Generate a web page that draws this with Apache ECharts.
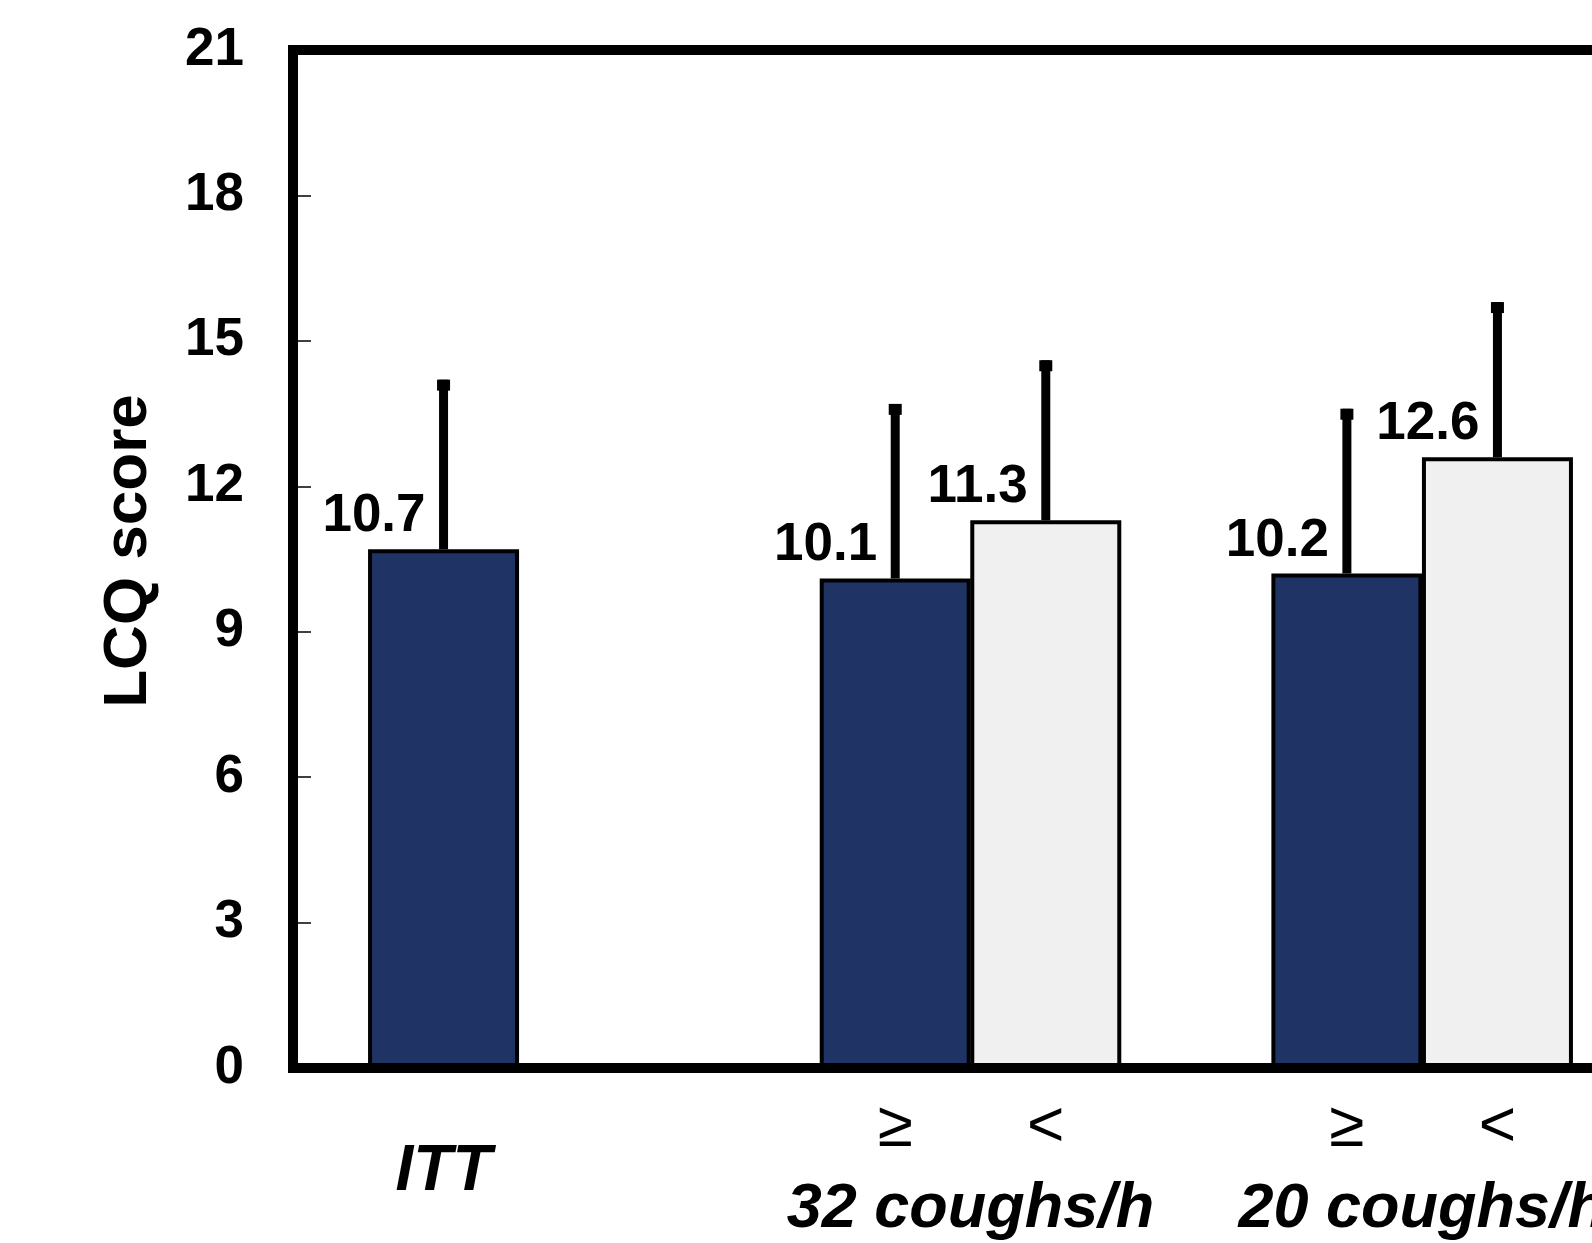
<!DOCTYPE html>
<html>
<head>
<meta charset="utf-8">
<script src="https://cdn.jsdelivr.net/npm/echarts@6/dist/echarts.min.js"></script>
<style>
html,body{margin:0;padding:0;background:#fff;overflow:hidden;width:1592px;height:1243px;}
#chart{width:1700px;height:1243px;}
</style>
</head>
<body>
<div id="chart"></div>
<script>
// Half-slot positions along the x axis (bars sit on even slots)
const slotLabels = ['', '', 'ITT', '', '', '', '', '', '≥', '32 coughs/h', '<', '', '', '', '≥', '20 coughs/h', '<', '', ''];
// Mean LCQ score, dark bars (ITT and ≥ threshold)
const darkMeans = ['-', '-', 10.7, '-', '-', '-', '-', '-', 10.1, '-', '-', '-', '-', '-', 10.2, '-', '-', '-', '-'];
// Mean LCQ score, light bars (< threshold)
const lightMeans = ['-', '-', '-', '-', '-', '-', '-', '-', '-', '-', 11.3, '-', '-', '-', '-', '-', 12.6, '-', '-'];
// Upper end of error bars
const errorTops = [null, null, 14.2, null, null, null, null, null, 13.7, null, 14.6, null, null, null, 13.6, null, 15.8, null, null];
const yTicks = [0, 3, 6, 9, 12, 15, 18, 21];

const FONT = "'Liberation Sans', Arial, sans-serif";

const errData = [];
for (let i = 0; i < slotLabels.length; i++) {
  if (errorTops[i] != null) {
    const m = darkMeans[i] !== '-' ? darkMeans[i] : lightMeans[i];
    errData.push([i, m, errorTops[i]]);
  }
}

const chart = echarts.init(document.getElementById('chart'));
const barLabel = {
  show: true,
  position: ['50%', 0],
  offset: [-18, -6],
  align: 'right',
  verticalAlign: 'bottom',
  fontFamily: FONT,
  fontWeight: 'bold',
  fontSize: 53,
  color: '#000',
  formatter: p => p.value.toFixed(1)
};

chart.setOption({
  animation: false,
  grid: {
    left: 293, top: 50, bottom: 175, right: 52,
    show: true, borderColor: '#000', borderWidth: 10, z: 5,
    backgroundColor: 'transparent'
  },
  xAxis: {
    type: 'category',
    data: slotLabels,
    boundaryGap: false,
    axisLine: { show: false },
    axisTick: { show: false },
    axisLabel: {
      interval: 0,
      margin: 28,
      color: '#000',
      fontFamily: FONT,
      formatter: v => {
        if (!v) return '';
        if (v === '≥' || v === '<') return '{op|' + v + '}';
        if (v === 'ITT') return '{itt|' + v + '}';
        return '{grp|' + v + '}';
      },
      rich: {
        op: { fontFamily: FONT, fontSize: 64, lineHeight: 64, color: '#000' },
        itt: { fontFamily: FONT, fontSize: 64, fontWeight: 'bold', fontStyle: 'italic', lineHeight: 64, padding: [88, 0, 0, 0], color: '#000' },
        grp: { fontFamily: FONT, fontSize: 63, fontWeight: 'bold', fontStyle: 'italic', lineHeight: 64, padding: [164, 0, 0, 0], color: '#000' }
      }
    },
    splitLine: { show: false }
  },
  yAxis: {
    type: 'value',
    min: yTicks[0], max: yTicks[yTicks.length - 1], interval: 3,
    name: 'LCQ score',
    nameLocation: 'middle',
    nameGap: 133,
    nameTextStyle: { fontFamily: FONT, fontSize: 62, fontWeight: 'bold', color: '#000', padding: [0, 0, 0, 16] },
    axisLine: { show: false },
    axisTick: { show: true, inside: true, length: 18, lineStyle: { color: '#000', width: 1.5 } },
    axisLabel: { margin: 49, fontFamily: FONT, fontSize: 53, fontWeight: 'bold', color: '#000' },
    splitLine: { show: false }
  },
  series: [
    {
      type: 'bar', data: darkMeans, barWidth: 151, barGap: '-100%',
      itemStyle: { color: '#1f3364', borderColor: '#000', borderWidth: 4 },
      label: barLabel, z: 2
    },
    {
      type: 'bar', data: lightMeans, barWidth: 151, barGap: '-100%',
      itemStyle: { color: '#f0f0f0', borderColor: '#000', borderWidth: 4 },
      label: barLabel, z: 2
    },
    {
      type: 'custom', data: errData, z: 4,
      encode: { x: 0, y: [1, 2] },
      renderItem: (params, api) => {
        const x = api.value(0), m = api.value(1), t = api.value(2);
        const p0 = api.coord([x, m]);
        const p1 = api.coord([x, t]);
        return {
          type: 'group',
          children: [
            { type: 'rect', shape: { x: p0[0] - 4.5, y: p1[1], width: 9, height: p0[1] - p1[1] }, style: { fill: '#000' } },
            { type: 'rect', shape: { x: p1[0] - 6.5, y: p1[1], width: 13, height: 11 }, style: { fill: '#000' } }
          ]
        };
      }
    }
  ]
});
</script>
</body>
</html>
